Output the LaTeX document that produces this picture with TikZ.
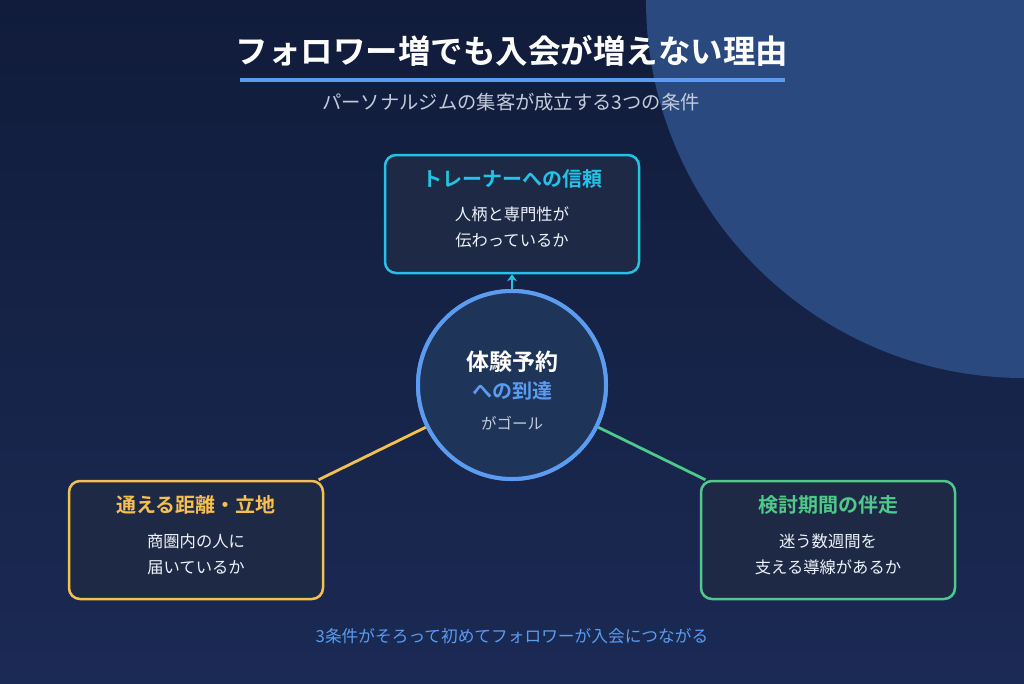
\documentclass[tikz,border=0pt]{standalone}
\usepackage{fontspec}
\setmainfont{Noto Sans CJK JP}[BoldFont={Noto Sans CJK JP Bold}]
\usetikzlibrary{arrows.meta}
\definecolor{bgtop}{HTML}{111C3B}
\definecolor{bgbot}{HTML}{1B2A54}
\definecolor{deco}{HTML}{2A4A7F}
\definecolor{accent}{HTML}{5B9BF0}
\definecolor{subgray}{HTML}{C3CBDA}
\definecolor{cyanc}{HTML}{22C3E6}
\definecolor{yellowc}{HTML}{F5C04E}
\definecolor{greenc}{HTML}{4FC98A}
\definecolor{boxfill}{HTML}{1E2A45}
\definecolor{circfill}{HTML}{1E3459}
\definecolor{txtw}{HTML}{EEF2FA}
\tikzset{
  card/.style={draw=#1, line width=2.5pt, fill=boxfill, rounded corners=11pt,
    minimum width=254pt, minimum height=118pt, inner sep=0pt},
  cardtitle/.style={text=#1, font=\bfseries\fontsize{20}{24}\selectfont, inner sep=0pt, anchor=center},
  cardbody/.style={text=txtw, font=\fontsize{16.3}{26}\selectfont, align=center, inner sep=0pt, anchor=center},
  link/.style={draw=#1, line width=2.8pt},
}
\begin{document}
\begin{tikzpicture}[x=1pt,y=-1pt]
\useasboundingbox (0,0) rectangle (1024,683);
\shade[top color=bgtop, bottom color=bgbot] (0,0) rectangle (1024,683);
\begin{scope}
\clip (0,0) rectangle (1024,683);
\fill[deco] (1024,0) circle[radius=378];
\end{scope}

% title
\node[text=white, font=\bfseries\fontsize{32.5}{36}\selectfont, inner sep=0pt] (title) at (512,51) {フォロワー増でも入会が増えない理由};
\coordinate (ulA) at (240,80);
\coordinate (ulB) at (785,80);
\draw[accent, line width=3.5pt] (ulA) -- (ulB);
\node[text=subgray, font=\fontsize{19.3}{22}\selectfont, inner sep=0pt] (subtitle) at (511,102) {パーソナルジムの集客が成立する3つの条件};

% boxes
\node[card=cyanc] (top) at (512,214) {};
\node[cardtitle=cyanc] (topT) at (512,179) {トレーナーへの信頼};
\node[cardbody] (topB) at (512,227) {人柄と専門性が\\伝わっているか};

\node[card=yellowc] (left) at (196,540) {};
\node[cardtitle=yellowc] (leftT) at (196,505) {通える距離・立地};
\node[cardbody] (leftB) at (196,554) {商圏内の人に\\届いているか};

\node[card=greenc] (right) at (828,540) {};
\node[cardtitle=greenc] (rightT) at (828,505) {検討期間の伴走};
\node[cardbody] (rightB) at (828,554) {迷う数週間を\\支える導線があるか};

% center
\node[circle, draw=accent, line width=4pt, fill=circfill, minimum size=188pt, inner sep=0pt] (c) at (512,385) {};

\draw[link=yellowc] (c) -- (left);
\draw[link=greenc] (c) -- (right);
\draw[link=cyanc, -{Stealth[length=7pt,width=10pt]}] (c) -- (top);

\node[circle, draw=accent, line width=4pt, fill=circfill, minimum size=188pt, inner sep=0pt] at (512,385) {};
\node[text=white, font=\bfseries\fontsize{23}{26}\selectfont, inner sep=0pt] (cA) at (512,362) {体験予約};
\node[text=accent, font=\bfseries\fontsize{20}{24}\selectfont, inner sep=0pt] (cB) at (512,391) {への到達};
\node[text=subgray, font=\fontsize{15.5}{18}\selectfont, inner sep=0pt] (cC) at (512,423) {がゴール};

\node[text=accent, font=\fontsize{16.7}{20}\selectfont, inner sep=0pt] (foot) at (512,636) {3条件がそろって初めてフォロワーが入会につながる};
\end{tikzpicture}
\end{document}
